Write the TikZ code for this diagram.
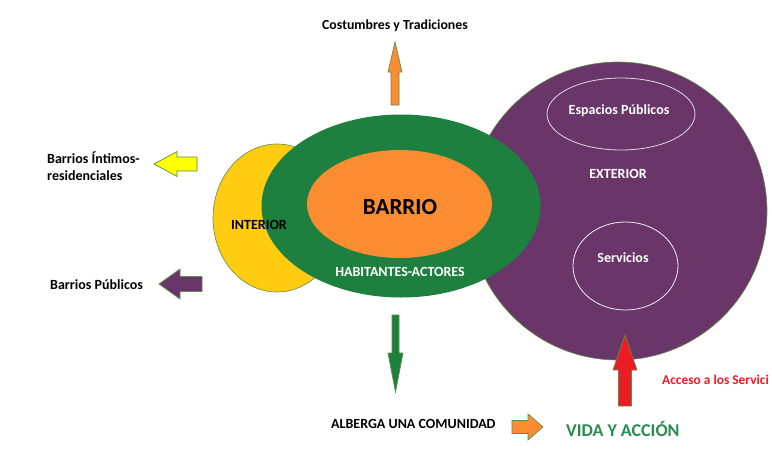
\documentclass[tikz,border=0pt]{standalone}
\usepackage{fontspec}
\setmainfont{Carlito}
\usetikzlibrary{shapes.geometric}
\definecolor{cYel}{RGB}{255,204,17}
\definecolor{cGrn}{RGB}{30,128,62}
\definecolor{cOra}{RGB}{251,140,50}
\definecolor{cPur}{RGB}{106,54,106}
\definecolor{cRed}{RGB}{237,28,36}
\definecolor{cAY}{RGB}{255,255,0}
\definecolor{cTxtG}{RGB}{40,140,80}
\definecolor{cLine}{RGB}{95,140,70}
\tikzset{
  lbl/.style={font=\bfseries\fontsize{14}{17}\selectfont, text=black, inner sep=0pt},
  wlbl/.style={lbl, text=white},
  pics/barrow/.style n args={4}{code={
    \path[pic actions] (0,0) -- (-#2,#3) -- (-#2,#4) -- (-#1,#4) -- (-#1,-#4) -- (-#2,-#4) -- (-#2,-#3) -- cycle;
  }},
  arr/.style={draw=cLine, line width=0.7pt, fill=#1}
}
\begin{document}
\begin{tikzpicture}[x=1pt,y=-1pt]
\useasboundingbox[fill=white] (0,0) rectangle (772,448);
% shapes
\node[ellipse, draw=cLine, line width=0.6pt, fill=cYel, minimum width=128, minimum height=148, inner sep=0pt] (interior) at (277,218) {};
\node[circle, draw=cLine, line width=0.6pt, fill=cPur, minimum size=298, inner sep=0pt] (exterior) at (618,211) {};
\node[ellipse, fill=cGrn, minimum width=279, minimum height=183, inner sep=0pt] (habit) at (401,206) {};
\node[ellipse, fill=cOra, minimum width=185, minimum height=108, inner sep=0pt] (barrio) at (399.5,204) {};
\node[ellipse, draw=white!80!cPur, line width=0.8pt, minimum width=148, minimum height=72, inner sep=0pt] (espacios) at (621,114) {};
\node[ellipse, draw=white!90!cPur, line width=0.8pt, minimum width=105, minimum height=88, inner sep=0pt] (servicios) at (625.5,266) {};
% labels in shapes
\node[lbl, font=\bfseries\fontsize{23}{26}\selectfont] (tBarrio) at (400,207) {BARRIO};
\node[wlbl] (tHab) at (400,272) {HABITANTES-ACTORES};
\node[lbl] (tInt) at (259,225) {INTERIOR};
\node[wlbl] (tEsp) at (619,111) {Espacios Públicos};
\node[wlbl] (tExt) at (618,174) {EXTERIOR};
\node[wlbl] (tSer) at (623,258) {Servicios};
% outer labels
\node[lbl, font=\bfseries\fontsize{13.8}{16}\selectfont] (tCos) at (395,26) {Costumbres y Tradiciones};
\node[lbl, anchor=north west, align=left, font=\bfseries\fontsize{14}{17}\selectfont] (tInti) at (47,152) {Barrios Íntimos-\\residenciales};
\node[lbl, anchor=west] (tPub) at (50,285) {Barrios Públicos};
\node[lbl, anchor=west] (tAlb) at (331,424) {ALBERGA UNA COMUNIDAD};
\node[lbl, font=\bfseries\fontsize{18}{21}\selectfont, text=cTxtG, anchor=west] (tVida) at (566,429) {VIDA Y ACCIÓN};
\node[lbl, font=\bfseries\fontsize{13.4}{16}\selectfont, text=cRed, anchor=west] (tAcc) at (662,380) {Acceso a los Servici};
% block arrows
\pic[arr=cOra, rotate=90] at (395,42) {barrow={63}{30}{7}{4}};
\pic[arr=cAY, rotate=180] at (154,164) {barrow={43}{23}{12.5}{7}};
\pic[arr=cPur, rotate=180] at (159,284) {barrow={43}{21}{15}{7.5}};
\pic[arr=cGrn, rotate=-90] at (395.5,392) {barrow={77}{39}{7.5}{3.5}};
\pic[arr=cRed, rotate=90] at (625,335) {barrow={71}{35}{12}{6.5}};
\pic[arr=cOra] at (543,427) {barrow={31}{15}{13}{6.5}};
\end{tikzpicture}
\end{document}
